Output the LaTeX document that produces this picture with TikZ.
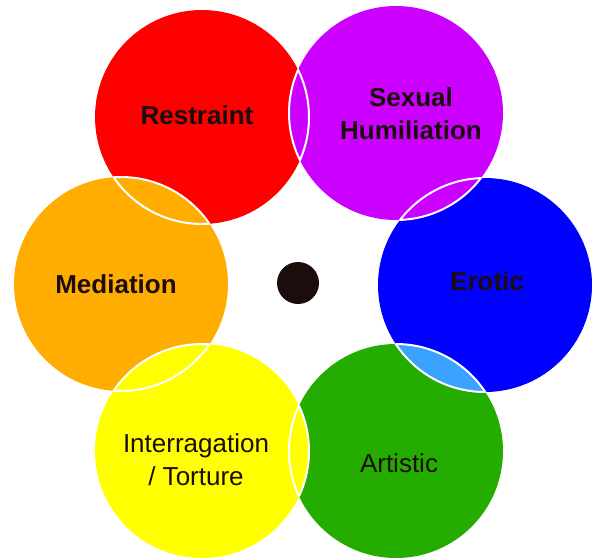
\documentclass[tikz,border=0pt]{standalone}
\usepackage{fontspec}
\setmainfont{Liberation Sans}
\usetikzlibrary{calc}
\definecolor{cred}{HTML}{FF0000}
\definecolor{cpurple}{HTML}{CC00FF}
\definecolor{cblue}{HTML}{0000FF}
\definecolor{cgreen}{HTML}{24AC00}
\definecolor{cyellow}{HTML}{FFFF00}
\definecolor{corange}{HTML}{FFAD00}
\definecolor{clight}{HTML}{3AA2FF}
\definecolor{ink}{HTML}{1C0C0C}

\begin{document}
\begin{tikzpicture}[x=1pt,y=-1pt,
    lensline/.style={white,line width=2pt},
    boldlabel/.style={text=ink,font=\fontsize{26}{33}\selectfont\bfseries,align=center},
    plainlabel/.style={text=ink,font=\fontsize{26}{33}\selectfont,align=center}]
        \useasboundingbox (0,0) rectangle (595,560);
        % six circles round a dot, radius 107
        \def\rr{107pt}

        \coordinate (R) at (202,117);
        \coordinate (P) at (396,113);
        \coordinate (B) at (485,285);
        \coordinate (G) at (396,451);
        \coordinate (Y) at (202,451);
        \coordinate (O) at (121,284);

        \fill[cred] (R) circle (\rr);
        \fill[cpurple] (P) circle (\rr);
        \fill[cblue] (B) circle (\rr);
        \fill[cgreen] (G) circle (\rr);
        \fill[cyellow] (Y) circle (\rr);
        \fill[corange] (O) circle (\rr);

        % overlaps: fill the lens, then white arcs
        \foreach \a/\b/\c in {R/P/cpurple,P/B/cpurple,B/G/clight,G/Y/cyellow,Y/O/cyellow,O/R/corange}{
            \begin{scope}
                \clip (\a) circle (\rr);
                \fill[\c] (\b) circle (\rr);
                \draw[lensline] (\b) circle (\rr);
            \end{scope}
            \begin{scope}
                \clip (\b) circle (\rr);
                \draw[lensline] (\a) circle (\rr);
            \end{scope}
        }

        % centre dot
        \fill[ink] (298,283) coordinate (dot) circle (21pt);

        \node[boldlabel] (restraint) at (197,115) {Restraint};
        \node[boldlabel] (humiliation) at (411,114) {Sexual\\Humiliation};
        \node[boldlabel] (erotic) at (487,281) {Erotic};
        \node[boldlabel] (mediation) at (116,284) {Mediation};
        \node[plainlabel] (torture) at (196,460) {Interragation\\/ Torture};
        \node[plainlabel] (artistic) at (399,463) {Artistic};
    \end{tikzpicture}
\end{document}
